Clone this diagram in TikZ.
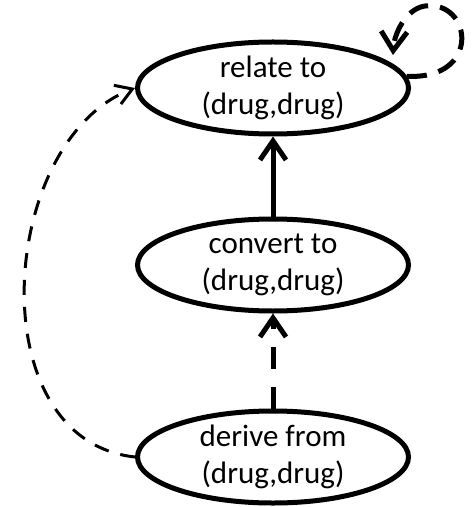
\documentclass[tikz,border=0pt]{standalone}
\usepackage{fontspec}
\setmainfont{Carlito}
\usetikzlibrary{shapes.geometric,arrows.meta}
\begin{document}
\begin{tikzpicture}[x=1bp,y=1bp,
  relation/.style={ellipse,draw,line width=5bp,inner sep=0pt,
    minimum width=271bp,minimum height=92bp,align=center,
    font=\fontsize{31bp}{37bp}\selectfont},
  solidedge/.style={line width=5bp,
    -{Straight Barb[length=19bp,width=26bp,line width=5bp]}},
  dashededge/.style={line width=5bp,dash pattern=on 22bp off 18bp,
    -{Straight Barb[length=19bp,width=26bp,line width=5bp]}},
  curveedge/.style={line width=3bp,dash pattern=on 15bp off 12bp,
    -{Straight Barb[length=16bp,width=20bp,line width=3bp]}},
  loopedge/.style={line width=5bp,dash pattern=on 20bp off 12bp,
    -{Straight Barb[length=19bp,width=26bp,line width=5bp]}}]
\useasboundingbox (0,0) rectangle (473,-507);

\node[relation] (top) at (273,-88) {relate to\\(drug,drug)};
\node[relation] (mid) at (273,-265) {convert to\\(drug,drug)};
\node[relation] (bot) at (273,-457) {derive from\\(drug,drug)};
\coordinate (loopend) at (393,-55);

\draw[solidedge] (mid) -- (top);
\draw[dashededge] (bot) -- (mid);
\draw[curveedge] (bot.west) .. controls (-22,-440) and (-2,-140) .. (top.west);
\draw[loopedge] (top.5) .. controls (482,-80) and (472,0) .. (425,-6)
  .. controls (405,-9) and (394,-35) .. (loopend);
\end{tikzpicture}
\end{document}
